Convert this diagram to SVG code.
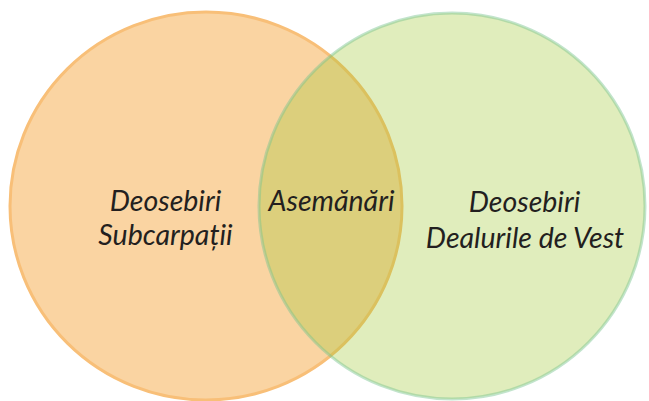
<svg xmlns="http://www.w3.org/2000/svg" width="649" height="401" viewBox="0 0 649 401">
<style>
.lbl{font-family:Lato,"Open Sans","Liberation Sans",sans-serif;font-style:italic;font-size:28.5px;fill:#231F20;text-anchor:middle}
</style>
<rect width="649" height="401" fill="#FFFFFF"/>
<g id="set-subcarpatii">
<ellipse cx="206" cy="206" rx="196" ry="194" fill="#FAD4A2" stroke="#F8BF78" stroke-width="3"/>
</g>
<g id="set-dealurile-de-vest">
<ellipse cx="452" cy="206" rx="193" ry="193" fill="#9BC527" fill-opacity="0.31" stroke="#78C48E" stroke-opacity="0.45" stroke-width="3"/>
</g>
<g id="connectors"></g>
<g id="labels">
<text class="lbl" x="165.5" y="211">Deosebiri</text>
<text class="lbl" x="165.5" y="245">Subcarpații</text>
<text class="lbl" x="331.5" y="211">Asemănări</text>
<text class="lbl" x="524.5" y="212">Deosebiri</text>
<text class="lbl" x="525" y="248">Dealurile de Vest</text>
</g>
</svg>
